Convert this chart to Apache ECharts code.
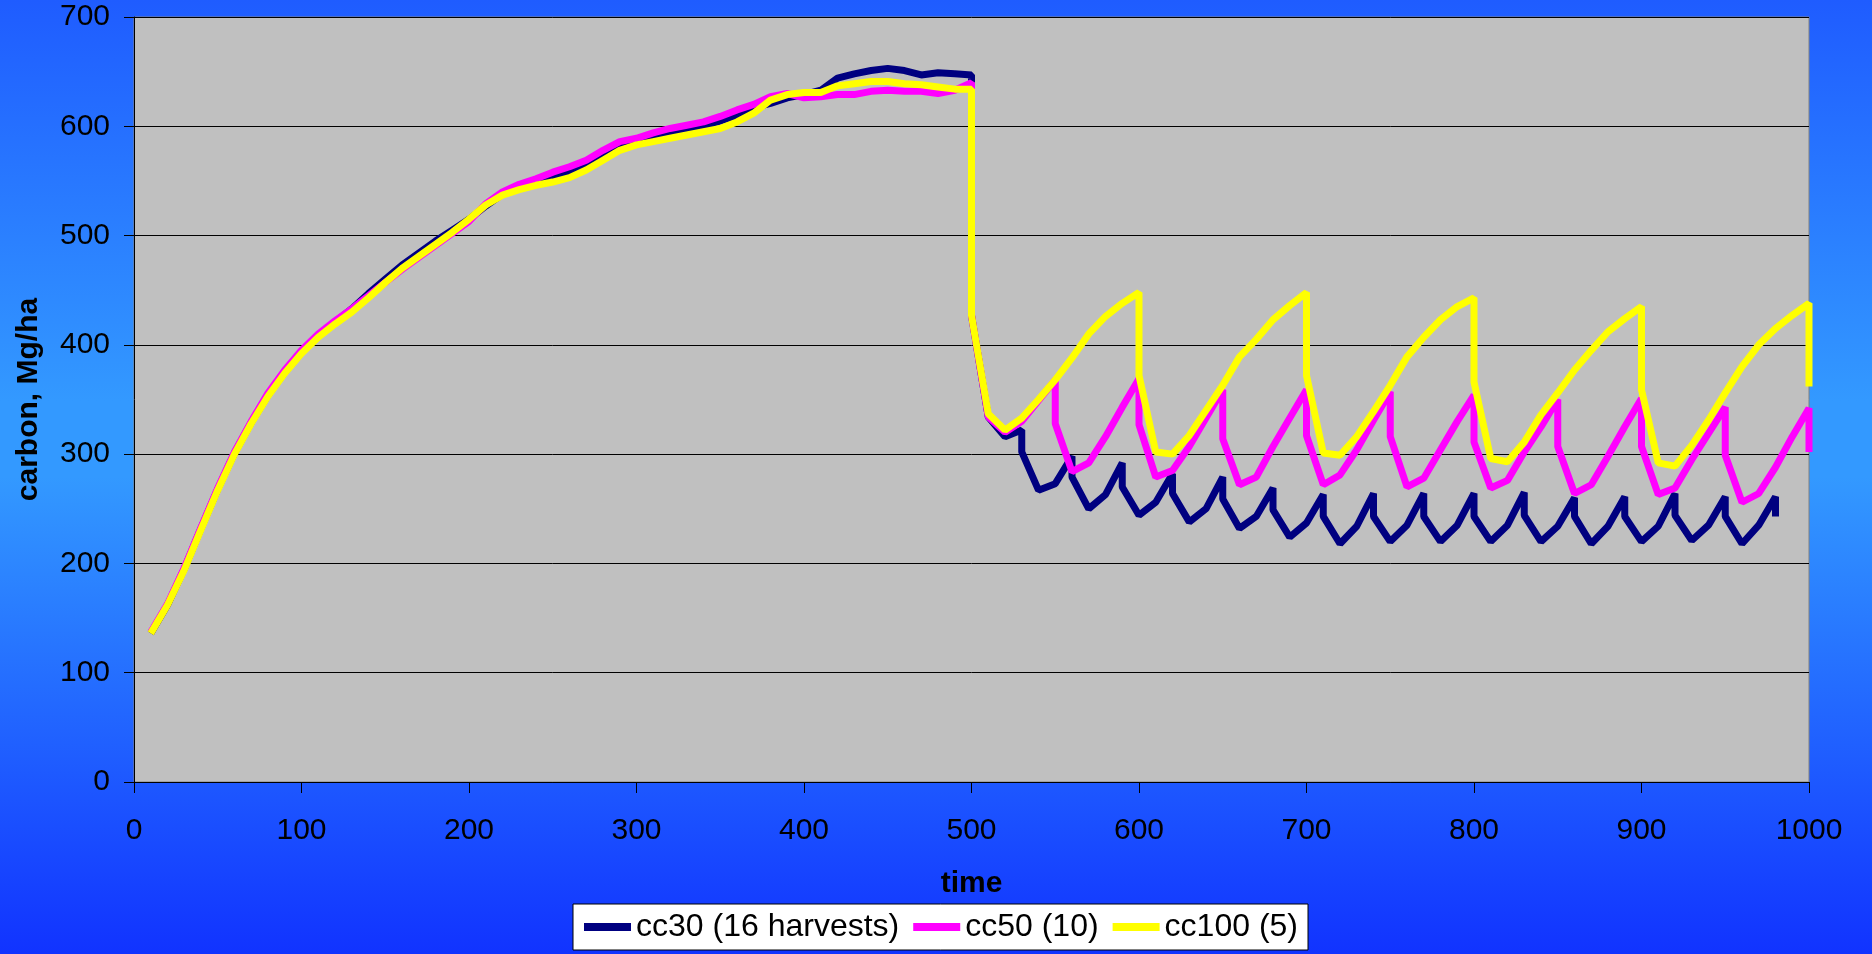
<!DOCTYPE html>
<html><head><meta charset="utf-8">
<script src="https://cdn.jsdelivr.net/npm/echarts@6/dist/echarts.min.js"></script>
<style>html,body{margin:0;padding:0;width:1872px;height:954px;overflow:hidden}#c{width:1872px;height:954px}</style>
</head><body><div id="c"></div><script>
// growth phase (shared years, before the first harvest at 500)
const preYears = [10,20,30,40,50,60,70,80,90,100,110,120,130,140,150,160,170,180,190,200,210,220,230,240,250,260,270,280,290,300,310,320,330,340,350,360,370,380,390,400,410,420,430,440,450,460,470,480,490,500];
const cc30Pre  = [136,162,195,232,268,301,329,354,375,393,408,421,433,447,460,473,484,495,505,515,527,538,544,549,553,557,565,574,582,586,589,593,596,600,605,610,617,621,626,629,633,644,648,651,653,651,647,649,648,647];
const cc50Pre  = [137,163,196,233,269,302,330,356,377,395,410,422,433,445,457,469,480,491,502,513,529,540,547,552,558,563,569,578,586,589,594,598,601,604,609,615,620,627,630,626,627,629,629,632,633,632,632,630,633,640];
const cc100Pre = [136,162,194,231,267,300,328,353,374,392,407,419,430,443,457,470,481,492,503,515,528,537,542,546,549,553,560,569,578,583,586,589,592,595,598,604,612,624,629,631,631,637,639,641,641,639,638,636,634,634];

// harvest phase (a repeated year = value just after the harvest)
const cc30PostYears = [500,510,520,530,530,540,550,560,560,570,580,590,590,600,610,620,620,630,640,650,650,660,670,680,680,690,700,710,710,720,730,740,740,750,760,770,770,780,790,800,800,810,820,830,830,840,850,860,860,870,880,890,890,900,910,920,920,930,940,950,950,960,970,980,980];
const cc30Post      = [427,334,316,322,302,267,273,298,279,250,263,292,270,244,256,282,264,238,250,279,259,232,243,269,249,224,237,263,243,218,234,264,243,220,235,264,243,220,235,264,243,220,235,265,244,220,234,260,243,218,234,261,243,220,234,264,244,221,235,261,243,218,235,261,243];

const cc50PostYears = [500,510,520,530,540,550,550,560,570,580,590,600,600,610,620,630,640,650,650,660,670,680,690,700,700,710,720,730,740,750,750,760,770,780,790,800,800,810,820,830,840,850,850,860,870,880,890,900,900,910,920,930,940,950,950,960,970,980,990,1000,1000];
const cc50Post      = [427,334,320,330,349,368,328,284,292,316,343,369,327,279,285,307,333,359,314,272,279,307,333,359,317,272,281,304,331,357,316,270,278,304,330,354,311,269,276,302,325,350,307,264,272,298,325,351,307,263,269,295,319,343,299,256,264,288,316,342,302];

const cc100PostYears = [500,510,520,530,540,550,560,570,580,590,600,600,610,620,630,640,650,660,670,680,690,700,700,710,720,730,740,750,760,770,780,790,800,800,810,820,830,840,850,860,870,880,890,900,900,910,920,930,940,950,960,970,980,990,1000,1000];
const cc100Post      = [427,337,322,333,350,368,388,410,426,438,448,372,302,300,317,340,363,389,405,423,436,448,372,301,299,316,339,363,389,407,423,435,443,366,296,293,311,336,356,377,395,412,424,435,359,292,289,308,331,356,380,400,415,427,438,362];

const seriesNames = ['cc30 (16 harvests)', 'cc50 (10)', 'cc100 (5)'];
const seriesColors = ['#000080', '#FF00FF', '#FFFF00'];
const xTicks = {min: 0, max: 1000, interval: 100};
const yTicks = {min: 0, max: 700, interval: 100};

function pairs(xs, ys) { return xs.map((x, i) => [x, ys[i]]); }
const seriesData = [
  pairs(preYears, cc30Pre).concat(pairs(cc30PostYears, cc30Post)),
  pairs(preYears, cc50Pre).concat(pairs(cc50PostYears, cc50Post)),
  pairs(preYears, cc100Pre).concat(pairs(cc100PostYears, cc100Post))
];

const FONT = '"Liberation Sans", Arial, Helvetica, sans-serif';
const chart = echarts.init(document.getElementById('c'), null, {renderer: 'canvas'});
chart.setOption({
  animation: false,
  backgroundColor: {type: 'linear', x: 0, y: 0, x2: 0, y2: 1, colorStops: [
    {offset: 0, color: '#1F5CFF'}, {offset: 0.42, color: '#3399FF'}, {offset: 0.5, color: '#3399FF'}, {offset: 1, color: '#1133FF'}]},
  textStyle: {fontFamily: FONT},
  grid: {left: 134, right: 63, top: 17, bottom: 172, show: true, backgroundColor: '#C0C0C0', borderColor: '#808080', borderWidth: 1, containLabel: false},
  legend: {
    data: seriesNames.map(n => ({name: n, icon: 'rect'})), left: 573, top: 904, orient: 'horizontal',
    padding: [7, 10, 7, 11], itemGap: 14, itemWidth: 47, itemHeight: 8, icon: 'rect',
    backgroundColor: '#FFFFFF', borderColor: '#000000', borderWidth: 1, borderRadius: 0,
    textStyle: {fontSize: 32, color: '#000', fontFamily: FONT}
  },
  xAxis: {
    type: 'value', min: xTicks.min, max: xTicks.max, interval: xTicks.interval,
    name: 'time', nameLocation: 'middle', nameGap: 87,
    nameTextStyle: {fontSize: 30, fontWeight: 'bold', color: '#000', fontFamily: FONT},
    axisLine: {show: true, onZero: false, lineStyle: {color: '#000', width: 1}},
    axisTick: {show: true, length: 11, lineStyle: {color: '#000', width: 1}},
    axisLabel: {fontSize: 30, color: '#000', margin: 34, fontFamily: FONT, formatter: v => String(v)},
    splitLine: {show: false}
  },
  yAxis: {
    type: 'value', min: yTicks.min, max: yTicks.max, interval: yTicks.interval,
    name: 'carbon, Mg/ha', nameLocation: 'middle', nameRotate: 90, nameGap: 90,
    nameTextStyle: {fontSize: 30, fontWeight: 'bold', color: '#000', fontFamily: FONT},
    axisLine: {show: true, lineStyle: {color: '#000', width: 1}},
    axisTick: {show: true, length: 10, lineStyle: {color: '#000', width: 1}},
    axisLabel: {fontSize: 30, color: '#000', margin: 24, fontFamily: FONT, formatter: v => String(v)},
    splitLine: {show: true, lineStyle: {color: '#000', width: 1}}
  },
  series: seriesData.map((d, i) => ({
    name: seriesNames[i], type: 'line', data: d, showSymbol: false, symbol: 'none',
    color: seriesColors[i], itemStyle: {color: seriesColors[i]},
    lineStyle: {color: seriesColors[i], width: 7, join: 'bevel'},
    z: 2 + i
  }))
});
</script></body></html>
